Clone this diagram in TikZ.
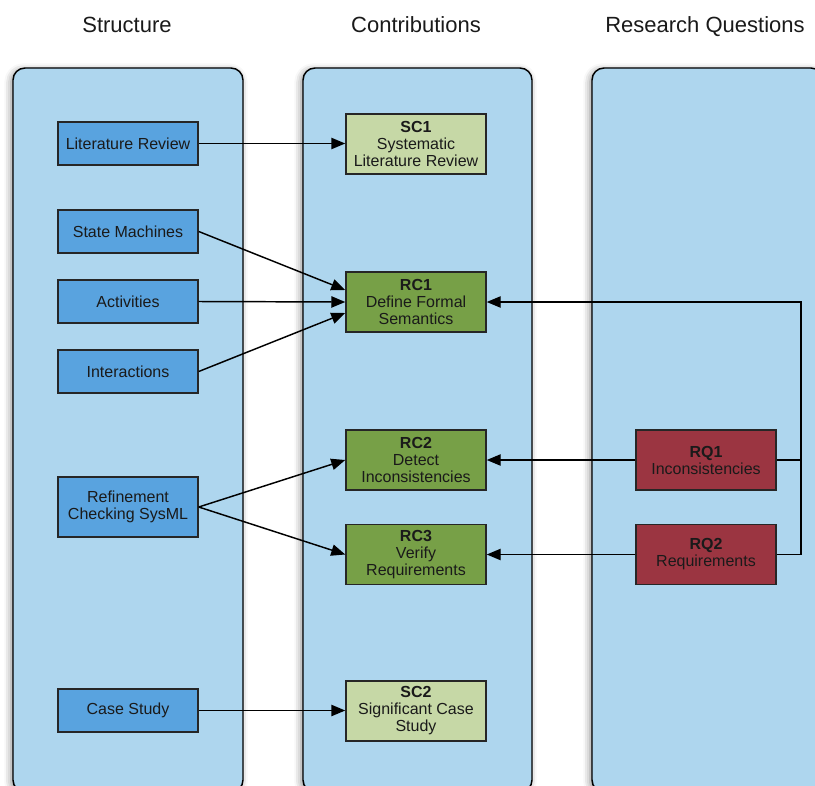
\documentclass[tikz,border=0pt]{standalone}
\usepackage{fontspec}
\setmainfont{Liberation Sans}
\usetikzlibrary{arrows.meta,shadows.blur}

\definecolor{panelblue}{HTML}{AED6EE}
\definecolor{structblue}{HTML}{59A3DF}
\definecolor{supportgreen}{HTML}{C6D8A6}
\definecolor{researchgreen}{HTML}{77A047}
\definecolor{questionred}{HTML}{9B3541}
\definecolor{inkgray}{HTML}{1A1A1A}

\tikzset{
  panel/.style={draw=black, line width=1.1pt, fill=panelblue, rounded corners=9pt,
    blur shadow={shadow xshift=-1.5pt, shadow yshift=-1.5pt, shadow blur radius=5pt, shadow opacity=45}},
  coltitle/.style={anchor=base, font=\fontsize{16.5}{18}\selectfont, text=inkgray},
  box/.style={draw=black!85, line width=1.1pt, minimum width=105pt, inner sep=0pt,
    align=center, text=inkgray, font=\fontsize{12}{12.75}\selectfont},
  onebox/.style={box, minimum height=32.25pt},
  threebox/.style={box, minimum height=45pt},
  structbox/.style={onebox, fill=structblue},
  supportbox/.style={threebox, fill=supportgreen},
  researchbox/.style={threebox, fill=researchgreen},
  questionbox/.style={threebox, fill=questionred},
  link/.style={draw=black, line width=1.1pt, -{Triangle[length=10.5pt,width=8.5pt]}},
  plainlink/.style={draw=black, line width=1.1pt},
}

\begin{document}
\begin{tikzpicture}[x=0.75pt,y=-0.75pt]
  \useasboundingbox (0,0) rectangle (815,786);

  % columns
  \path[panel] (13,68) rectangle (243,792);
  \path[panel] (303,68) rectangle (532,792);
  \path[panel] (592,68) rectangle (823,792);

  \node[coltitle] (t1) at (127,32) {Structure};
  \node[coltitle] (t2) at (416,32) {Contributions};
  \node[coltitle] (t3) at (705,32) {Research Questions};

  % structure
  \node[structbox] (lit) at (128,143.5) {Literature Review};
  \node[structbox] (sm)  at (128,231.5) {State Machines};
  \node[structbox] (act) at (128,301.5) {Activities};
  \node[structbox] (int) at (128,371.5) {Interactions};
  \node[structbox, minimum height=45pt] (ref) at (128,507) {Refinement\\Checking SysML};
  \node[structbox] (cs)  at (128,710.5) {Case Study};

  % contributions
  \node[supportbox]  (sc1) at (416,144) {\textbf{SC1}\\Systematic\\Literature Review};
  \node[researchbox] (rc1) at (416,302) {\textbf{RC1}\\Define Formal\\Semantics};
  \node[researchbox] (rc2) at (416,460) {\textbf{RC2}\\Detect\\Inconsistencies};
  \node[researchbox] (rc3) at (416,554.5) {\textbf{RC3}\\Verify\\Requirements};
  \node[supportbox]  (sc2) at (416,711) {\textbf{SC2}\\Significant Case\\Study};

  % research questions
  \node[questionbox] (rq1) at (706,460) {\textbf{RQ1}\\Inconsistencies};
  \node[questionbox] (rq2) at (706,554.5) {\textbf{RQ2}\\Requirements};

  % connectors
  \draw[link] (lit.east) -- (lit.east -| sc1.west);
  \draw[link] (sm.east) -- ([yshift=9pt]rc1.west);
  \draw[link] (act.east) -- (rc1.west);
  \draw[link] (int.east) -- ([yshift=-8.25pt]rc1.west);
  \draw[link] (ref.east) -- (rc2.west);
  \draw[link] (ref.east) -- (rc3.west);
  \draw[link] (cs.east) -- (cs.east -| sc2.west);
  \draw[link] (rq1.west) -- (rc2.east);
  \draw[link] (rq2.west) -- (rc3.east);

  \coordinate (bus) at (801,302);
  \draw[link] (rq1.east) -| (bus) -- (rc1.east);
  \draw[plainlink] (rq2.east) -| (bus);
\end{tikzpicture}
\end{document}
